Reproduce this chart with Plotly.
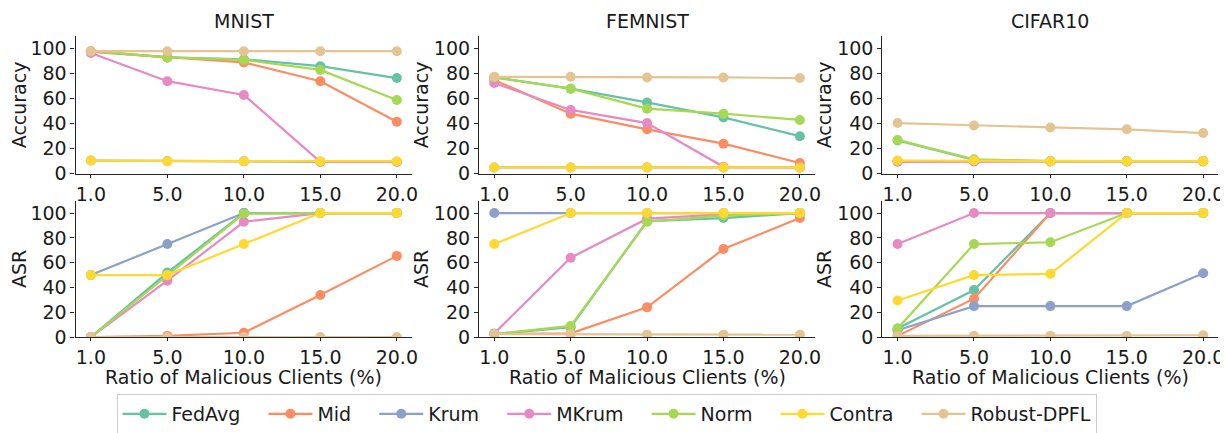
import plotly.graph_objects as go

ratios = ["1.0", "5.0", "10.0", "15.0", "20.0"]
methods = ["FedAvg", "Mid", "Krum", "MKrum", "Norm", "Contra", "Robust-DPFL"]
colors = ["#66c2a5", "#fc8d62", "#8da0cb", "#e78ac3", "#a6d854", "#ffd92f", "#e5c494"]
datasets = ["MNIST", "FEMNIST", "CIFAR10"]
metrics = ["Accuracy", "ASR"]
x_title = "Ratio of Malicious Clients (%)"

# rows follow the order of `methods`
mnist_acc = [
    [98, 93, 91.5, 86, 76.5],
    [97.5, 93, 89, 74, 41.5],
    [10.5, 10, 10, 9.5, 9.5],
    [96.5, 74, 63, 9.5, 9.5],
    [98, 93, 91, 83, 59],
    [10.5, 10, 10, 10, 10],
    [98, 98, 98, 98, 98],
]
mnist_asr = [
    [0, 52, 100, 100, 100],
    [0, 1, 3.5, 34, 65.5],
    [50, 75, 100, 100, 100],
    [0, 45.5, 93, 100, 100],
    [0, 50, 99.5, 100, 100],
    [50, 50, 75, 100, 100],
    [0, 0, 0, 0, 0],
]
femnist_acc = [
    [77, 68, 57, 45, 30],
    [75, 48, 35.5, 24, 8.5],
    [5, 5, 5, 5, 5],
    [72.5, 51, 40.5, 5.5, 5],
    [77, 68, 52, 48, 43],
    [5, 5, 5, 5, 5],
    [77.5, 77.5, 77, 77, 76.5],
]
femnist_asr = [
    [2.5, 8, 93.5, 96, 100],
    [2.5, 3, 24, 71, 96],
    [100, 100, 100, 100, 100],
    [3, 64, 95.5, 99, 100],
    [2.5, 9, 93, 98, 100],
    [75, 100, 100, 100, 100],
    [2.5, 2.5, 2, 2, 2],
]
cifar_acc = [
    [26.5, 11, 10, 10, 10],
    [10, 10, 10, 10, 10],
    [10, 10, 10, 10, 10],
    [9.5, 10, 10, 10, 10],
    [27, 11.5, 10, 10, 10],
    [10.5, 10.5, 10, 10, 10],
    [40.5, 38.5, 37, 35.5, 32.5],
]
cifar_asr = [
    [7, 38, 100, 100, 100],
    [1, 31, 100, 100, 100],
    [5.5, 25, 25, 25, 51.5],
    [75, 100, 100, 100, 100],
    [7, 75, 76.5, 100, 100],
    [29.5, 50, 51, 100, 100],
    [1, 1, 1, 1, 1.5],
]
y_ticks = [0, 20, 40, 60, 80, 100]

panels = {
    (0, 0): mnist_acc, (0, 1): femnist_acc, (0, 2): cifar_acc,
    (1, 0): mnist_asr, (1, 1): femnist_asr, (1, 2): cifar_asr,
}

W, H = 1228, 433
FONT = "DejaVu Sans"
FS = 19
TXT = "#1a1a1a"

# pixel layout
col_px = [(67.9, 406.1), (473.3, 811.1), (878.6, 1216.4)]
row_px = [(28.9, 170.0), (197.7, 337.7)]

fig = go.Figure()

for (r, c), data in panels.items():
    idx = r * 3 + c + 1
    xa = "x" if idx == 1 else f"x{idx}"
    ya = "y" if idx == 1 else f"y{idx}"
    for m, (name, col) in enumerate(zip(methods, colors)):
        pad = "\u00a0" * 3 if m < len(methods) - 1 else ""
        fig.add_trace(go.Scatter(
            x=ratios, y=data[m], mode="lines+markers",
            name=name + pad, legendgroup=name,
            showlegend=(idx == 1),
            line=dict(color=col, width=2.2),
            marker=dict(color=col, size=10, line=dict(width=0)),
            xaxis=xa, yaxis=ya,
        ))
    x0, x1 = col_px[c]
    y0, y1 = row_px[r]
    axis_common = dict(
        showline=True, linecolor="#262626", linewidth=1.2,
        ticks="outside", ticklen=4, tickwidth=1.2, tickcolor="#262626",
        showgrid=False, zeroline=False, mirror=False,
        tickfont=dict(family=FONT, size=FS, color=TXT),
    )
    xkey = "xaxis" if idx == 1 else f"xaxis{idx}"
    ykey = "yaxis" if idx == 1 else f"yaxis{idx}"
    xdict = dict(axis_common, domain=[x0 / W, x1 / W], type="category",
                 range=[-0.2, 4.2], anchor=ya, categoryorder="array",
                 categoryarray=ratios, ticklen=3)
    ydict = dict(axis_common, domain=[1 - y1 / H, 1 - y0 / H], range=[0, 110],
                 tickvals=y_ticks, anchor=xa,
                 title=dict(text=metrics[r], font=dict(family=FONT, size=FS, color=TXT),
                            standoff=0))
    fig.update_layout({xkey: xdict, ykey: ydict})

for c, name in enumerate(datasets):
    x0, x1 = col_px[c]
    fig.add_annotation(text=name, xref="paper", yref="paper",
                       x=(x0 + x1) / 2 / W, y=1 - 13 / H, xanchor="center",
                       yanchor="middle", showarrow=False,
                       font=dict(family=FONT, size=FS, color=TXT))
    fig.add_annotation(text=x_title, xref="paper", yref="paper",
                       x=(x0 + x1) / 2 / W, y=1 - 379 / H, xanchor="center",
                       yanchor="middle", showarrow=False,
                       font=dict(family=FONT, size=FS, color=TXT))

fig.update_layout(
    width=W, height=H,
    margin=dict(l=0, r=0, t=0, b=0),
    paper_bgcolor="white", plot_bgcolor="white",
    font=dict(family=FONT, size=FS, color=TXT),
    legend=dict(orientation="h", x=110 / W, y=1 - 396 / H, xanchor="left",
                yanchor="top", bordercolor="#cccccc", borderwidth=1,
                itemwidth=44, font=dict(family=FONT, size=FS, color=TXT),
                bgcolor="white"),
)

fig.write_html("out.html")
